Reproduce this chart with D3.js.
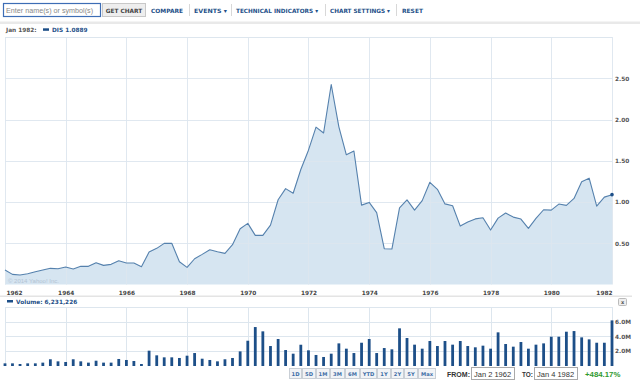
<!DOCTYPE html>
<html><head><meta charset="utf-8">
<script src="https://cdn.jsdelivr.net/npm/d3@7"></script>
<style>
html,body{margin:0;padding:0;background:#fff;}
svg{display:block;}
</style></head>
<body>
<svg id="c" width="640" height="382"></svg>
<script>
// ---- data (quarterly, Jan 1962 .. Jan 1982) ----
const startYear = 1962;
const priceValues = [0.176,0.123,0.115,0.131,0.155,0.176,0.196,0.191,0.212,0.188,
0.220,0.220,0.264,0.232,0.244,0.288,0.260,0.260,0.216,0.393,
0.438,0.499,0.499,0.276,0.208,0.312,0.365,0.422,0.398,0.377,
0.482,0.676,0.741,0.595,0.595,0.720,1.027,1.162,1.106,1.394,
1.628,1.907,1.836,2.424,1.911,1.572,1.618,0.962,0.995,0.872,
0.434,0.430,0.930,1.025,0.902,1.017,1.239,1.154,0.977,0.954,
0.708,0.757,0.795,0.809,0.660,0.805,0.866,0.817,0.793,0.680,
0.801,0.906,0.902,0.975,0.959,1.043,1.245,1.289,0.950,1.059,1.0889];
const volumeValues = [0.23,0.23,0.14,0.23,0.23,0.33,0.80,0.51,0.42,0.80,
0.51,0.33,0.60,0.33,0.33,0.84,0.70,0.56,0.14,2.00,
1.35,1.07,1.07,0.98,1.30,1.67,0.88,0.70,0.51,0.80,
0.98,1.90,3.39,5.30,4.70,2.65,3.63,2.09,1.58,2.83,
2.05,1.40,1.12,1.58,3.02,2.28,1.67,3.11,3.63,1.67,
2.37,2.19,5.12,3.77,2.84,2.28,3.35,2.65,3.35,2.84,
3.35,2.65,2.47,2.70,2.28,4.56,2.93,2.56,3.21,2.28,
2.84,3.02,3.95,3.95,4.65,4.74,3.86,3.58,3.11,3.11,6.231226];
const yearTicks = [1962,1964,1966,1968,1970,1972,1974,1976,1978,1980,1982];
const priceTicks = [0.5,1.0,1.5,2.0,2.5];
const volumeTicks = [2,4,6];
const navItems = ["COMPARE","EVENTS \u25BE","TECHNICAL INDICATORS \u25BE","CHART SETTINGS \u25BE","RESET"];
const rangeButtons = ["1D","5D","1M","3M","6M","YTD","1Y","2Y","5Y","Max"];
const headerDate = "Jan 1982:";
const seriesLabel = "DIS 1.0889";
const volumeLabel = "Volume: 6,231,226";
const fromDate = "Jan 2 1962", toDate = "Jan 4 1982", changeText = "+484.17%";

const dates = priceValues.map((_, i) => new Date(startYear + Math.floor(i/4), (i%4)*3, 1));

// ---- layout ----
const svg = d3.select("#c");
const L = 5, R = 612;
const pTop = 37, pBot = 284.5;
const vTop = 307, vBot = 365;
const FONT = "'DejaVu Sans', Verdana, sans-serif";
const SANS = "'Liberation Sans', Arial, sans-serif";
const BLUE = "#1d4f88";
const GRID = "#dde6ee";

const x = d3.scaleTime().domain([new Date(1962,0,1), new Date(1982,0,1)]).range([L, R]);
const y = d3.scaleLinear().domain([0, 3]).range([pBot, pTop]);
const yv = d3.scaleLinear().domain([0, 8.1]).range([vBot, vTop]);

// ---- top toolbar ----
svg.append("rect").attr("x",3.5).attr("y",3.5).attr("width",97).attr("height",13)
  .attr("fill","#fff").attr("stroke","#3d6db5").attr("stroke-width",1.2);
svg.append("text").attr("x",6).attr("y",13).attr("font-family",SANS)
  .attr("font-size",7.2).attr("fill","#888").text("Enter name(s) or symbol(s)");
svg.append("rect").attr("x",102.5).attr("y",3.5).attr("width",43).attr("height",13)
  .attr("fill","#eeeeee").attr("stroke","#c8c8c8");
svg.append("text").attr("x",124).attr("y",12.6).attr("text-anchor","middle").attr("font-family",FONT)
  .attr("font-weight","bold").attr("font-size",5.8).attr("fill","#444").text("GET CHART");

const navX = [151,194,236,330,402];
const navW = [32,33,82,60,21];
navItems.forEach((t,i)=>{
  svg.append("text").attr("x",navX[i]).attr("y",12.6).attr("font-family",FONT).attr("font-weight","bold")
    .attr("font-size",5.8).attr("fill",BLUE).attr("textLength",navW[i]).attr("lengthAdjust","spacingAndGlyphs").text(t);
});
[189,231,325,396].forEach(sx=>{
  svg.append("line").attr("x1",sx+0.5).attr("x2",sx+0.5).attr("y1",4).attr("y2",16).attr("stroke","#d8d8d8");
});
svg.append("rect").attr("x",0).attr("y",21.5).attr("width",640).attr("height",2.5).attr("fill","#e9e9e9");

// ---- price header ----
svg.append("text").attr("x",6).attr("y",32).attr("font-family",FONT).attr("font-weight","bold")
  .attr("font-size",5.8).attr("fill","#555").text(headerDate);
svg.append("rect").attr("x",43).attr("y",28.3).attr("width",6).attr("height",2.5).attr("fill",BLUE);
svg.append("text").attr("x",52).attr("y",32).attr("font-family",FONT).attr("font-weight","bold")
  .attr("font-size",5.8).attr("fill",BLUE).text(seriesLabel);

// ---- price plot ----
const gP = svg.append("g");
const area = d3.area().x((d,i)=>x(dates[i])).y0(pBot).y1(d=>y(d));
const line = d3.line().x((d,i)=>x(dates[i])).y(d=>y(d));
gP.append("path").datum(priceValues).attr("d",area).attr("fill","#d6e5f1");
gP.selectAll(".hg").data(priceTicks).join("line").attr("x1",L).attr("x2",R)
  .attr("y1",d=>Math.round(y(d))+0.5).attr("y2",d=>Math.round(y(d))+0.5)
  .attr("stroke",GRID).attr("stroke-opacity",0.9).attr("stroke-width",1.2);
gP.selectAll(".vg").data(yearTicks).join("line")
  .attr("x1",d=>Math.round(x(new Date(d,0,1)))+0.5).attr("x2",d=>Math.round(x(new Date(d,0,1)))+0.5)
  .attr("y1",pTop).attr("y2",pBot).attr("stroke",GRID).attr("stroke-opacity",0.9);
gP.append("line").attr("x1",L).attr("x2",R).attr("y1",pTop+0.5).attr("y2",pTop+0.5).attr("stroke",GRID);
gP.append("path").datum(priceValues).attr("d",line).attr("fill","none")
  .attr("stroke","#5581ad").attr("stroke-width",1.1).attr("stroke-linejoin","round");
gP.append("circle").attr("cx",x(dates[80])).attr("cy",y(priceValues[80])).attr("r",1.8).attr("fill",BLUE);
gP.append("text").attr("x",8).attr("y",283).attr("font-family",SANS)
  .attr("font-size",6).attr("fill","#b3c4d4").text("\u00A9 2014 Yahoo! Inc.");
// right axis
const yAxis = d3.axisRight(y).tickValues(priceTicks).tickSize(0).tickPadding(3).tickFormat(d3.format(".2f"));
svg.append("g").attr("transform",`translate(${R},0)`).call(yAxis)
  .call(g=>g.select(".domain").remove())
  .call(g=>g.selectAll("text").attr("font-family",FONT).attr("font-weight","bold").attr("font-size",5.8).attr("fill","#555"));
// x axis
const xAxis = d3.axisBottom(x).tickValues(yearTicks.map(d=>new Date(d,0,1))).tickSize(0).tickPadding(4)
  .tickFormat(d3.timeFormat("%Y"));
svg.append("g").attr("transform",`translate(0,${pBot+2})`).call(xAxis)
  .call(g=>g.select(".domain").remove())
  .call(g=>g.selectAll("text").attr("font-family",FONT).attr("font-weight","bold").attr("font-size",5.8).attr("fill","#444")
     .attr("text-anchor",(d,i)=> i===0 ? "start" : (i===yearTicks.length-1 ? "end" : "middle"))
     .attr("dx",(d,i)=> i===0 ? 1 : 0));
svg.append("rect").attr("x",0).attr("y",295.5).attr("width",632).attr("height",1.5).attr("fill","#e4e4e4");

// ---- volume header ----
svg.append("rect").attr("x",7).attr("y",300).attr("width",6).attr("height",2.5).attr("fill",BLUE);
svg.append("text").attr("x",16).attr("y",303.8).attr("font-family",FONT).attr("font-weight","bold")
  .attr("font-size",5.8).attr("fill",BLUE).text(volumeLabel);
svg.append("rect").attr("x",618.5).attr("y",298.5).attr("width",8).attr("height",7).attr("rx",1)
  .attr("fill","#eee").attr("stroke","#bbb");
svg.append("text").attr("x",622.5).attr("y",304).attr("text-anchor","middle").attr("font-family",FONT)
  .attr("font-size",5).attr("font-weight","bold").attr("fill","#555").text("x");

// ---- volume plot ----
const gV = svg.append("g");
gV.append("line").attr("x1",L).attr("x2",R).attr("y1",vTop+0.5).attr("y2",vTop+0.5).attr("stroke",GRID);
gV.selectAll(".vh").data(volumeTicks).join("line").attr("x1",L).attr("x2",R)
  .attr("y1",d=>Math.round(yv(d))+0.5).attr("y2",d=>Math.round(yv(d))+0.5).attr("stroke",GRID).attr("stroke-width",1.2);
gV.selectAll(".vv").data(yearTicks).join("line")
  .attr("x1",d=>Math.round(x(new Date(d,0,1)))+0.5).attr("x2",d=>Math.round(x(new Date(d,0,1)))+0.5)
  .attr("y1",vTop).attr("y2",vBot).attr("stroke",GRID);
gV.selectAll(".bar").data(volumeValues).join("rect")
  .attr("x",(d,i)=>x(dates[i])-1.4).attr("width",2.8)
  .attr("y",d=>yv(d)).attr("height",d=>vBot-yv(d)+1).attr("fill",BLUE);
const vAxis = d3.axisRight(yv).tickValues(volumeTicks).tickSize(0).tickPadding(3).tickFormat(d=>d.toFixed(1)+"M");
svg.append("g").attr("transform",`translate(${R},0)`).call(vAxis)
  .call(g=>g.select(".domain").remove())
  .call(g=>g.selectAll("text").attr("font-family",FONT).attr("font-weight","bold").attr("font-size",5.8).attr("fill","#555"));

// ---- bottom controls ----
const btnX = [289,302,316,330,345,360,377,391,404,418];
const btnW = [12,13,13,14,14,16,13,12,13,17];
rangeButtons.forEach((t,i)=>{
  svg.append("rect").attr("x",btnX[i]+0.5).attr("y",368.5).attr("width",btnW[i]).attr("height",10)
    .attr("fill","#f1f3f6").attr("stroke","#c9cfd6");
  svg.append("text").attr("x",btnX[i]+0.5+btnW[i]/2).attr("y",375.7).attr("text-anchor","middle")
    .attr("font-family",FONT).attr("font-weight","bold").attr("font-size",5.2).attr("fill","#3f6ea6").text(t);
});
svg.append("text").attr("x",447).attr("y",377).attr("font-family",SANS).attr("font-weight","bold")
  .attr("font-size",7.5).attr("fill","#333").attr("textLength",23).attr("lengthAdjust","spacingAndGlyphs").text("FROM:");
svg.append("rect").attr("x",471.5).attr("y",367.5).attr("width",43).attr("height",12).attr("fill","#fff").attr("stroke","#aaa");
svg.append("text").attr("x",474).attr("y",377).attr("font-family",SANS)
  .attr("font-size",7.5).attr("fill","#333").text(fromDate);
svg.append("text").attr("x",522).attr("y",377).attr("font-family",SANS).attr("font-weight","bold")
  .attr("font-size",7.5).attr("fill","#333").attr("textLength",11).attr("lengthAdjust","spacingAndGlyphs").text("TO:");
svg.append("rect").attr("x",534.5).attr("y",367.5).attr("width",43).attr("height",12).attr("fill","#fff").attr("stroke","#aaa");
svg.append("text").attr("x",537).attr("y",377).attr("font-family",SANS)
  .attr("font-size",7.5).attr("fill","#333").text(toDate);
svg.append("text").attr("x",585).attr("y",377).attr("font-family",SANS).attr("font-weight","bold")
  .attr("font-size",7.8).attr("fill","#2f9a2f").text(changeText);
</script>
</body></html>
